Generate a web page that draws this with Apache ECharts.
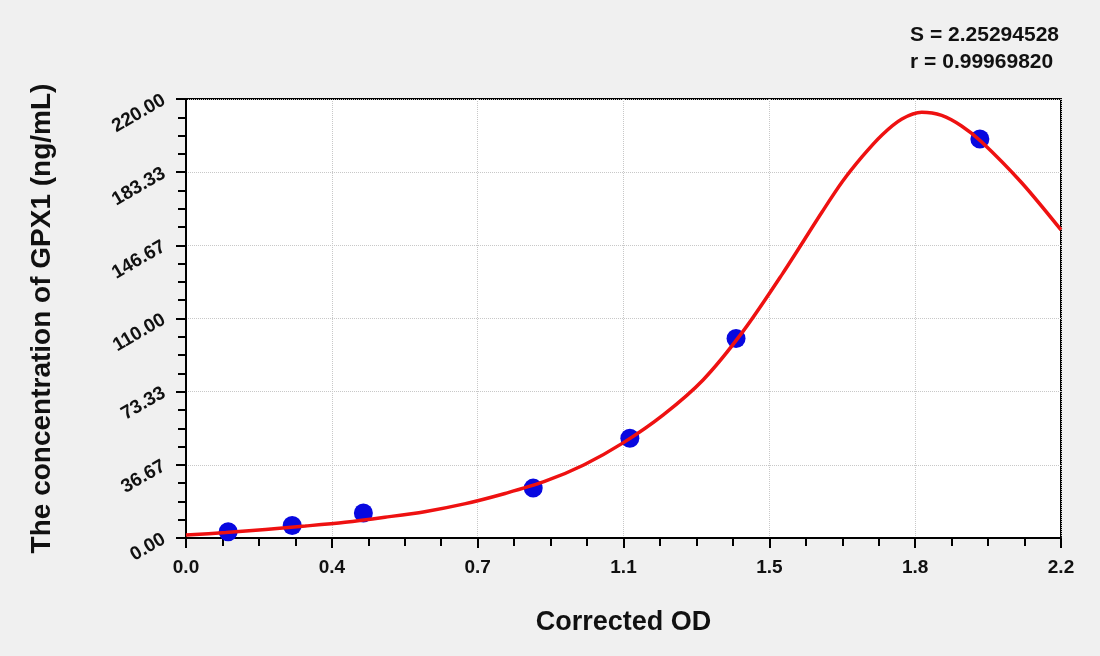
<!DOCTYPE html>
<html>
<head>
<meta charset="utf-8">
<title>GPX1 standard curve</title>
<script src="https://cdn.jsdelivr.net/npm/echarts@6/dist/echarts.min.js"></script>
<style>
  html, body { margin: 0; padding: 0; background: #f0f0f0; }
  #main { width: 1100px; height: 656px; }
</style>
</head>
<body>
<div id="main"></div>
<script>
// standard points (Corrected OD, concentration)
var stdOD = [0.106, 0.267, 0.446, 0.873, 1.116, 1.383, 1.996];
var stdConc = [3.12, 6.25, 12.5, 25, 50, 100, 200];

// fitted curve
var curveOD = [0, 0.1, 0.2, 0.3, 0.4, 0.5, 0.6, 0.7, 0.8, 0.9, 1.0, 1.1, 1.2, 1.3, 1.4, 1.5, 1.6, 1.65, 1.7, 1.75, 1.8, 1.85, 1.9, 1.95, 2.0, 2.1, 2.2];
var curveConc = [1.5, 2.7, 4.3, 6.0, 7.9, 10.4, 13.2, 17.1, 22.2, 28.2, 36.6, 47.8, 61.7, 79.2, 103.4, 132.5, 163.6, 178.5, 191.1, 202.0, 210.0, 213.4, 211.8, 206.5, 198.6, 178.3, 154.4];

var xTickLabels = ['0.0', '0.4', '0.7', '1.1', '1.5', '1.8', '2.2'];
var yTickLabels = ['0.00', '36.67', '73.33', '110.00', '146.67', '183.33', '220.00'];

var fitText = ['S = 2.25294528', 'r = 0.99969820'];

var font = 'Liberation Sans, Arial, sans-serif';

var myChart = echarts.init(document.getElementById('main'));

var points = stdOD.map(function (v, i) { return [v, stdConc[i]]; });
var curve = curveOD.map(function (v, i) { return [v, curveConc[i]]; });

var option = {
  backgroundColor: '#f0f0f0',
  animation: false,
  title: {
    text: fitText.join('\n'),
    right: 36,
    top: 17,
    textStyle: { fontFamily: font, fontSize: 21, fontWeight: 'bold', color: '#111', lineHeight: 27 }
  },
  grid: {
    left: 186, right: 39, top: 99, bottom: 118,
    show: true, backgroundColor: '#ffffff', borderColor: '#000', borderWidth: 2
  },
  xAxis: {
    type: 'value',
    min: 0, max: 2.2, interval: 2.2 / 6,
    name: 'Corrected OD',
    nameLocation: 'middle',
    nameGap: 71,
    nameTextStyle: { fontFamily: font, fontSize: 27, fontWeight: 'bold', color: '#111' },
    axisLine: { lineStyle: { color: '#000', width: 2 } },
    axisTick: { length: 10, lineStyle: { color: '#000', width: 2 } },
    minorTick: { show: true, splitNumber: 4, length: 8, lineStyle: { color: '#000', width: 2 } },
    axisLabel: {
      margin: 20, fontFamily: font, fontSize: 19, fontWeight: 'bold', color: '#111',
      formatter: function (v, i) { return xTickLabels[i]; }
    },
    splitLine: { show: true, lineStyle: { color: '#c8c8c8', type: 'dotted', width: 1 } }
  },
  yAxis: {
    type: 'value',
    min: 0, max: 220, interval: 220 / 6,
    name: 'The concentration of GPX1 (ng/mL)',
    nameLocation: 'middle',
    nameRotate: 90,
    nameGap: 130,
    nameTextStyle: { fontFamily: font, fontSize: 28, fontWeight: 'bold', color: '#111' },
    axisLine: { show: true, lineStyle: { color: '#000', width: 2 } },
    axisTick: { show: true, length: 10, lineStyle: { color: '#000', width: 2 } },
    minorTick: { show: true, splitNumber: 4, length: 8, lineStyle: { color: '#000', width: 2 } },
    axisLabel: {
      rotate: 30, margin: 22, fontFamily: font, fontSize: 19, fontWeight: 'bold', color: '#111',
      formatter: function (v, i) { return yTickLabels[i]; }
    },
    splitLine: { show: true, lineStyle: { color: '#c8c8c8', type: 'dotted', width: 1 } }
  },
  series: [
    {
      name: 'fit',
      type: 'line',
      data: curve,
      smooth: 0.3,
      showSymbol: false,
      lineStyle: { color: '#ee1111', width: 3.5 },
      z: 3
    },
    {
      name: 'standards',
      type: 'scatter',
      data: points,
      symbolSize: 19,
      itemStyle: { color: '#0808e0', opacity: 1 },
      z: 2
    }
  ]
};

myChart.setOption(option);
</script>
</body>
</html>
